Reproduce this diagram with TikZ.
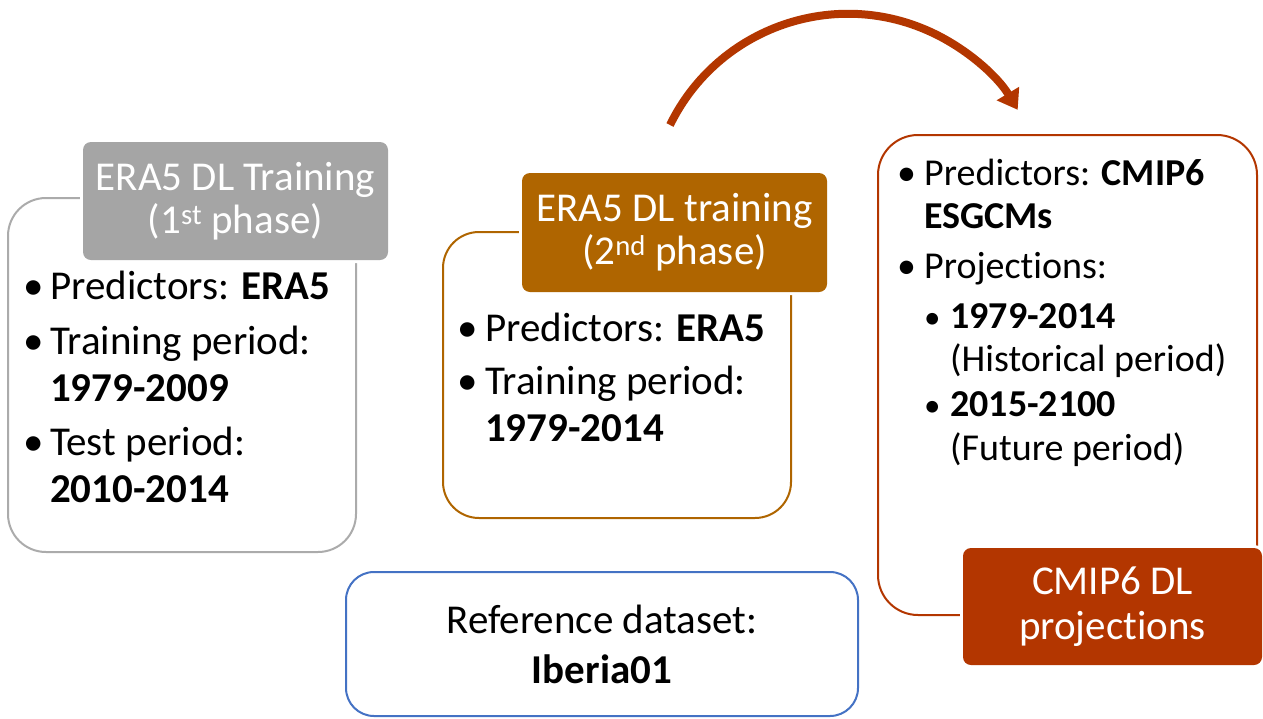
\documentclass[tikz,border=0pt]{standalone}
\usepackage{fontspec}
\setmainfont{Carlito}[Ligatures={NoCommon,NoDiscretionary,NoRare}]
\usetikzlibrary{arrows.meta}
\definecolor{grayc}{HTML}{A5A5A5}
\definecolor{grayline}{HTML}{ABABAB}
\definecolor{orangec}{HTML}{AF6500}
\definecolor{redc}{HTML}{B33600}
\definecolor{bluec}{HTML}{4472C4}
\newcommand{\bul}[1]{\makebox[#1][l]{•}}
\newcommand{\subbul}[1]{\makebox[#1][l]{\fontsize{33}{43}\selectfont •}}
\begin{document}
\begin{tikzpicture}[x=1pt,y=-1pt,
  frame/.style={draw, line width=2pt, rounded corners=#1, inner sep=0},
  frame/.default=36pt,
  lab/.style={rounded corners=8pt, text=white, align=center, inner sep=0,
    font=\fontsize{41}{43}\selectfont, preaction={draw=white, line width=6pt}},
  body/.style={inner sep=0, anchor=base west, font=\fontsize{41}{47}\selectfont},
  bodysm/.style={inner sep=0, anchor=base west, font=\fontsize{38}{43}\selectfont},
  bigarrow/.style={line width=8pt, draw=redc, -{Triangle[width=25pt,length=19pt]}}]
\useasboundingbox (0,0) rectangle (1263,718);

% phase 1
\node[frame=38pt, draw=grayline, minimum width=348pt, minimum height=354pt] (b1) at (182,375) {};
\node[lab, fill=grayc, minimum width=305pt, minimum height=118pt] (t1) at (235.5,201)
  {ERA5 DL Training\\(1\textsuperscript{st} phase)};
\node[body] (x1) at (23,299) {\begin{tabular}[t]{@{}l@{}}
\bul{27pt}Predictors: \textbf{ERA5}\\[8pt]
\bul{27pt}Training period:\\
\hspace*{27pt}\textbf{1979-2009}\\[7pt]
\bul{27pt}Test period:\\
\hspace*{27pt}\textbf{2010-2014}
\end{tabular}};

% phase 2
\node[frame=36pt, draw=orangec, minimum width=348pt, minimum height=286pt] (b2) at (617,375) {};
\node[lab, fill=orangec, minimum width=305pt, minimum height=119pt] (t2) at (674.5,232.5)
  {ERA5 DL training\\(2\textsuperscript{nd} phase)};
\node[body] (x2) at (457,341) {\begin{tabular}[t]{@{}l@{}}
\bul{28pt}Predictors: \textbf{ERA5}\\[6pt]
\bul{28pt}Training period:\\
\hspace*{28pt}\textbf{1979-2014}
\end{tabular}};

% projections
\node[frame=40pt, draw=redc, minimum width=379pt, minimum height=480pt] (b3) at (1067.5,375) {};
\node[lab, fill=redc, minimum width=299pt, minimum height=117pt, font=\fontsize{41}{45}\selectfont] (t3) at (1112.5,606.5)
  {CMIP6 DL\\projections};
\node[bodysm] (x3) at (897,185) {\begin{tabular}[t]{@{}l@{}}
\bul{27pt}Predictors: \textbf{CMIP6}\\
\hspace*{27pt}\textbf{ESGCMs}\\[7pt]
\bul{27pt}Projections:\\[7pt]
\hspace*{27pt}\subbul{26pt}\textbf{1979-2014}\\
\hspace*{53pt}(Historical period)\\[2pt]
\hspace*{27pt}\subbul{26pt}\textbf{2015-2100}\\[1pt]
\hspace*{53pt}(Future period)
\end{tabular}};

% reference dataset
\node[frame=28pt, draw=bluec, minimum width=512pt, minimum height=144pt,
  align=center, font=\fontsize{41}{50}\selectfont] (ref) at (602,644)
  {Reference dataset:\\\textbf{Iberia01}};

% arrow
\coordinate (as) at (670,125);
\draw[bigarrow] (as) arc[start angle=206, end angle=329, radius=198];
\end{tikzpicture}
\end{document}
